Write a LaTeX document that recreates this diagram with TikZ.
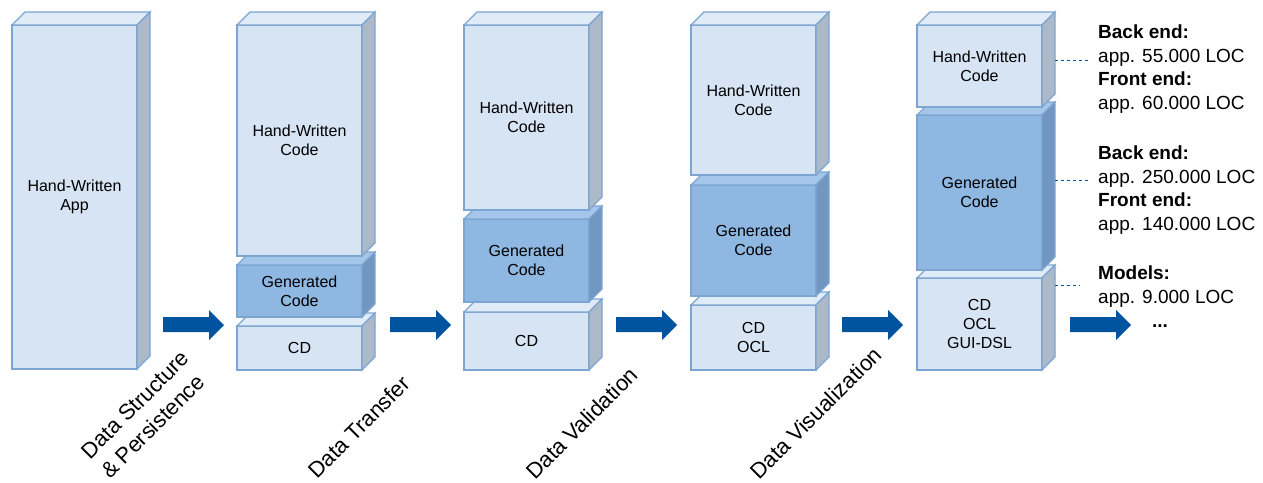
\documentclass[tikz,border=0pt]{standalone}
\usepackage{fontspec}
\setmainfont{Liberation Sans}

\definecolor{blockline}{RGB}{125,165,210}
\definecolor{handF}{RGB}{214,228,244}
\definecolor{handT}{RGB}{224,235,248}
\definecolor{handS}{RGB}{172,185,200}
\definecolor{genF}{RGB}{142,183,226}
\definecolor{genT}{RGB}{165,198,235}
\definecolor{genS}{RGB}{113,150,191}
\definecolor{flowblue}{RGB}{0,84,159}

\begin{document}
\begin{tikzpicture}[x=1pt, y=-1pt,
    block/.style={draw=blockline, line width=1.2pt, anchor=north west, minimum width=125pt,
        inner sep=0pt, outer sep=0pt, align=center, font=\fontsize{16}{19}\selectfont},
    hand block/.style={block, fill=handF},
    gen block/.style={block, fill=genF},
    hand top/.style={draw=blockline, line width=1.2pt, fill=handT},
    hand side/.style={draw=blockline, line width=1.2pt, fill=handS},
    gen top/.style={draw=blockline, line width=1.2pt, fill=genT},
    gen side/.style={draw=blockline, line width=1.2pt, fill=genS},
    flow arrow/.style={fill=flowblue},
    phase/.style={rotate=45, anchor=base west, inner sep=0pt, align=left,
        font=\fontsize{22}{28}\selectfont},
    loc/.style={anchor=north west, inner sep=0pt, align=left,
        font=\fontsize{19}{23.5}\selectfont},
    loc line/.style={draw=flowblue, dashed, line width=0.7pt}]
    \useasboundingbox (0,0) rectangle (1263,482);

    % Draw column 1: hand-written app
    \node[hand block, minimum height=344pt] (app1) at (12, 25) {Hand-Written\\App};
    \draw[hand top] (app1.north west) -- ++(13,-13) -- ++(125,0) -- (app1.north east) -- cycle;
    \draw[hand side] (app1.north east) -- ++(13,-13) -- ++(0,344) -- (app1.south east) -- cycle;

    % Draw column 2
    \node[hand block, minimum height=44pt] (cd2) at (237, 326) {CD};
    \draw[hand top] (cd2.north west) -- ++(13,-13) -- ++(125,0) -- (cd2.north east) -- cycle;
    \draw[hand side] (cd2.north east) -- ++(13,-13) -- ++(0,44) -- (cd2.south east) -- cycle;
    \node[gen block, minimum height=52pt] (gen2) at (237, 265) {Generated\\Code};
    \draw[gen top] (gen2.north west) -- ++(13,-13) -- ++(125,0) -- (gen2.north east) -- cycle;
    \draw[gen side] (gen2.north east) -- ++(13,-13) -- ++(0,52) -- (gen2.south east) -- cycle;
    \node[hand block, minimum height=231pt] (hw2) at (237, 25) {Hand-Written\\Code};
    \draw[hand top] (hw2.north west) -- ++(13,-13) -- ++(125,0) -- (hw2.north east) -- cycle;
    \draw[hand side] (hw2.north east) -- ++(13,-13) -- ++(0,231) -- (hw2.south east) -- cycle;

    % Draw column 3
    \node[hand block, minimum height=58pt] (cd3) at (464, 312) {CD};
    \draw[hand top] (cd3.north west) -- ++(13,-13) -- ++(125,0) -- (cd3.north east) -- cycle;
    \draw[hand side] (cd3.north east) -- ++(13,-13) -- ++(0,58) -- (cd3.south east) -- cycle;
    \node[gen block, minimum height=83pt] (gen3) at (464, 219) {Generated\\Code};
    \draw[gen top] (gen3.north west) -- ++(13,-13) -- ++(125,0) -- (gen3.north east) -- cycle;
    \draw[gen side] (gen3.north east) -- ++(13,-13) -- ++(0,83) -- (gen3.south east) -- cycle;
    \node[hand block, minimum height=185pt] (hw3) at (464, 25) {Hand-Written\\Code};
    \draw[hand top] (hw3.north west) -- ++(13,-13) -- ++(125,0) -- (hw3.north east) -- cycle;
    \draw[hand side] (hw3.north east) -- ++(13,-13) -- ++(0,185) -- (hw3.south east) -- cycle;

    % Draw column 4
    \node[hand block, minimum height=65pt] (cd4) at (691, 305) {CD\\OCL};
    \draw[hand top] (cd4.north west) -- ++(13,-13) -- ++(125,0) -- (cd4.north east) -- cycle;
    \draw[hand side] (cd4.north east) -- ++(13,-13) -- ++(0,65) -- (cd4.south east) -- cycle;
    \node[gen block, minimum height=111pt] (gen4) at (691, 185) {Generated\\Code};
    \draw[gen top] (gen4.north west) -- ++(13,-13) -- ++(125,0) -- (gen4.north east) -- cycle;
    \draw[gen side] (gen4.north east) -- ++(13,-13) -- ++(0,111) -- (gen4.south east) -- cycle;
    \node[hand block, minimum height=150pt] (hw4) at (691, 25) {Hand-Written\\Code};
    \draw[hand top] (hw4.north west) -- ++(13,-13) -- ++(125,0) -- (hw4.north east) -- cycle;
    \draw[hand side] (hw4.north east) -- ++(13,-13) -- ++(0,150) -- (hw4.south east) -- cycle;

    % Draw column 5
    \node[hand block, minimum height=92pt] (cd5) at (917, 278) {CD\\OCL\\GUI-DSL};
    \draw[hand top] (cd5.north west) -- ++(13,-13) -- ++(125,0) -- (cd5.north east) -- cycle;
    \draw[hand side] (cd5.north east) -- ++(13,-13) -- ++(0,92) -- (cd5.south east) -- cycle;
    \node[gen block, minimum height=155pt] (gen5) at (917, 115) {Generated\\Code};
    \draw[gen top] (gen5.north west) -- ++(13,-13) -- ++(125,0) -- (gen5.north east) -- cycle;
    \draw[gen side] (gen5.north east) -- ++(13,-13) -- ++(0,155) -- (gen5.south east) -- cycle;
    \node[hand block, minimum height=82pt] (hw5) at (917, 25) {Hand-Written\\Code};
    \draw[hand top] (hw5.north west) -- ++(13,-13) -- ++(125,0) -- (hw5.north east) -- cycle;
    \draw[hand side] (hw5.north east) -- ++(13,-13) -- ++(0,82) -- (hw5.south east) -- cycle;

    % Draw arrows between the columns
    \fill[flow arrow] (163,317) -- ++(46,0) -- ++(0,-7) -- ++(15,15) -- ++(-15,15) -- ++(0,-8) -- ++(-46,0) -- cycle;
    \fill[flow arrow] (390,317) -- ++(46,0) -- ++(0,-7) -- ++(15,15) -- ++(-15,15) -- ++(0,-8) -- ++(-46,0) -- cycle;
    \fill[flow arrow] (616,317) -- ++(46,0) -- ++(0,-7) -- ++(15,15) -- ++(-15,15) -- ++(0,-8) -- ++(-46,0) -- cycle;
    \fill[flow arrow] (842,317) -- ++(46,0) -- ++(0,-7) -- ++(15,15) -- ++(-15,15) -- ++(0,-8) -- ++(-46,0) -- cycle;
    \fill[flow arrow] (1070,317) -- ++(46,0) -- ++(0,-7) -- ++(15,15) -- ++(-15,15) -- ++(0,-8) -- ++(-46,0) -- cycle;
    \node[anchor=base, inner sep=0pt, font=\fontsize{19}{23}\selectfont\bfseries] (more) at (1160, 327) {...};

    % Draw phase labels
    \node[phase] (p1) at (110, 480) {Data Structure\\\& Persistence};
    \node[phase] (p2) at (317, 480) {Data Transfer};
    \node[phase] (p3) at (535, 481) {Data Validation};
    \node[phase] (p4) at (759, 481) {Data Visualization};

    % Draw lines of code
    \node[loc] (loc1) at (1098, 25) {\textbf{Back end:}\\app. 55.000 LOC\\\textbf{Front end:}\\app. 60.000 LOC};
    \node[loc] (loc2) at (1098, 146) {\textbf{Back end:}\\app. 250.000 LOC\\\textbf{Front end:}\\app. 140.000 LOC};
    \node[loc] (loc3) at (1098, 266) {\textbf{Models:}\\app. 9.000 LOC};
    \coordinate (d1) at (1055, 60);
    \coordinate (d2) at (1055, 180);
    \coordinate (d3) at (1055, 285);
    \draw[loc line] (d1) -- ([xshift=-10pt]d1 -| loc1.west);
    \draw[loc line] (d2) -- ([xshift=-10pt]d2 -| loc2.west);
    \draw[loc line] (d3) -- ([xshift=-18pt]d3 -| loc3.west);

\end{tikzpicture}
\end{document}
